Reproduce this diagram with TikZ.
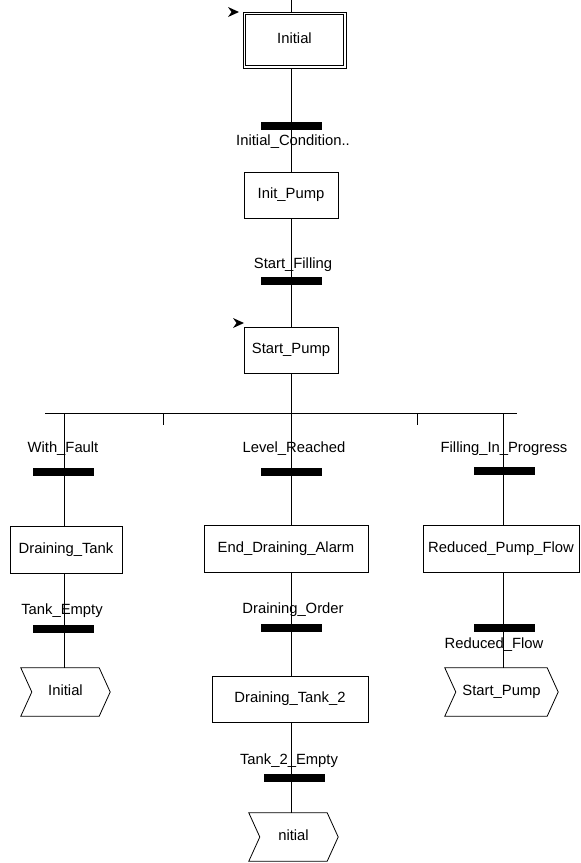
\documentclass[tikz,border=0pt]{standalone}
\usepackage{fontspec}
\setmainfont{Liberation Sans}
\begin{document}
\begin{tikzpicture}[x=1pt,y=-1pt,
  every node/.style={font=\fontsize{14.8}{17}\selectfont, inner sep=0pt, text height=10.5pt, text depth=3pt},
  conn/.style={line width=0.8pt},
  stepbox/.style={draw, line width=0.8pt, minimum height=47pt},
  bar/.style={fill=black, minimum width=61pt, minimum height=8pt, text height=0pt, text depth=0pt},
  jumpnode/.style={minimum height=48pt}]
\useasboundingbox (0,0) rectangle (581,863);

% steps
\node[stepbox, minimum width=103pt, minimum height=56pt] (S0) at (294.5,40) {Initial};
\draw[conn] ([shift={(3pt,-3pt)}]S0.north west) rectangle ([shift={(-3pt,3pt)}]S0.south east);
\node[stepbox, minimum width=94pt, minimum height=46pt] (S1) at (291,195) {Init\_Pump};
\node[stepbox, minimum width=94pt, minimum height=46pt] (S2) at (291,350) {Start\_Pump};
\node[stepbox, minimum width=112pt] (S3) at (66,549.5) {Draining\_Tank};
\node[stepbox, minimum width=164pt] (S4) at (286,548.5) {End\_Draining\_Alarm};
\node[stepbox, minimum width=156pt, minimum height=46pt] (S5) at (290,699) {Draining\_Tank\_2};
\node[stepbox, minimum width=156pt] (S6) at (501,548.5) {Reduced\_Pump\_Flow};

% jumps
\node[jumpnode, minimum width=89pt] (J1) at (65.5,692) {Initial};
\node[jumpnode, minimum width=113pt] (J2) at (501.5,692) {Start\_Pump};
\node[jumpnode, minimum width=89pt] (J3) at (293.5,837) {nitial};
\foreach \j in {J1,J2,J3}{
  \draw[conn] (\j.north west) -- ([xshift=-11pt]\j.north east) -- (\j.east)
    -- ([xshift=-11pt]\j.south east) -- (\j.south west) -- ([xshift=11pt]\j.west) -- cycle;
}

% connectors
\coordinate (ax) at (291,0);
\coordinate (dL) at (45,413);
\coordinate (dR) at (517,413);
\coordinate (b1) at (64,413);
\coordinate (b3) at (503,413);
\coordinate (k1) at (163,413);
\coordinate (k2) at (417,413);
\draw[conn] (ax) -- (ax |- S0.north);
\draw[conn] (ax |- S0.south) -- (S1.north);
\draw[conn] (S1.south) -- (S2.north);
\draw[conn] (S2.south) -- (ax |- S4.north);
\draw[conn] (dL) -- (dR);
\draw[conn] (k1) -- ++(0,12);
\draw[conn] (k2) -- ++(0,12);
\draw[conn] (b1) -- (b1 |- S3.north);
\draw[conn] (b1 |- S3.south) -- (b1 |- J1.north);
\draw[conn] (ax |- S4.south) -- (ax |- S5.north);
\draw[conn] (ax |- S5.south) -- (ax |- J3.north);
\draw[conn] (b3) -- (b3 |- S6.north);
\draw[conn] (b3 |- S6.south) -- (b3 |- J2.north);

% transitions
\node[bar] (T1) at (291.5,126) {};
\node[bar] (T2) at (291.5,280.5) {};
\node[bar] (T3) at (63,471.5) {};
\node[bar] (T4) at (63,629) {};
\node[bar] (T5) at (291.5,471.5) {};
\node[bar] (T6) at (291.5,628) {};
\node[bar] (T7) at (294.5,777.5) {};
\node[bar] (T8) at (504,470.5) {};
\node[bar] (T9) at (504,628) {};

% transition labels
\node (L1) at (293,142) {Initial\_Condition..};
\node (L2) at (293,265) {Start\_Filling};
\node (L3) at (63,449) {With\_Fault};
\node (L4) at (62,611) {Tank\_Empty};
\node (L5) at (294,449) {Level\_Reached};
\node (L6) at (293,610) {Draining\_Order};
\node (L7) at (289,761) {Tank\_2\_Empty};
\node (L8) at (504,449) {Filling\_In\_Progress};
\node (L9) at (494,645) {Reduced\_Flow};

% initial-step markers
\fill (228,7) -- (239,12) -- (228,17) -- (231.5,12) -- cycle;
\fill (233,318) -- (244,323) -- (233,328) -- (236.5,323) -- cycle;
\end{tikzpicture}
\end{document}
